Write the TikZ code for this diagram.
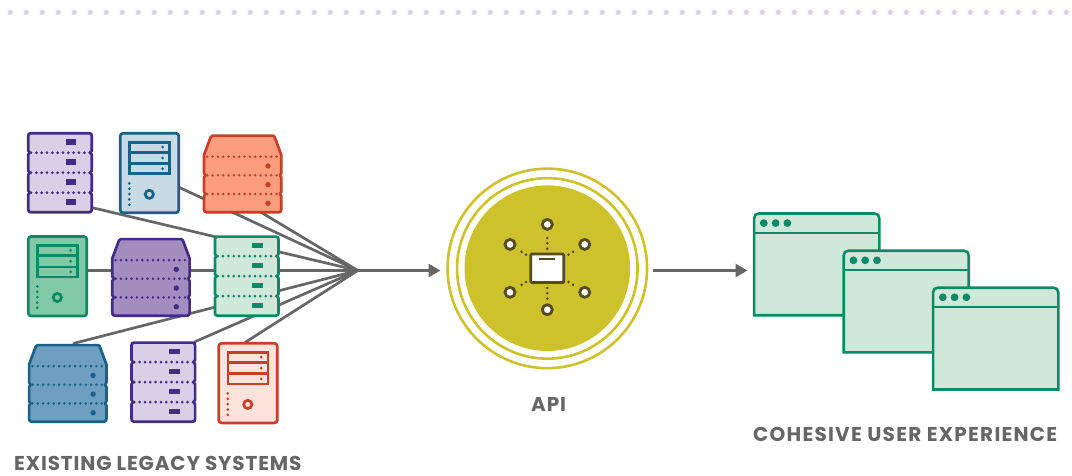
\documentclass[tikz,border=0pt]{standalone}
\usepackage{fontspec}
\setmainfont{Poppins}
\usetikzlibrary{arrows.meta,shapes.geometric}
\definecolor{cpurple}{HTML}{432C85}
\definecolor{cpurpleL}{HTML}{D9CFE6}
\definecolor{cpurpleM}{HTML}{A38CBE}
\definecolor{cblue}{HTML}{1A6285}
\definecolor{cblueL}{HTML}{C8DAE3}
\definecolor{cblueM}{HTML}{6E9FC2}
\definecolor{cred}{HTML}{C73F28}
\definecolor{credL}{HTML}{FDE3DC}
\definecolor{credM}{HTML}{FB9E7E}
\definecolor{cgreen}{HTML}{0C8A66}
\definecolor{cgreenL}{HTML}{CFE8DA}
\definecolor{cgreenM}{HTML}{80C8A6}
\definecolor{capi}{HTML}{CDC22B}
\definecolor{capiD}{HTML}{544C1E}
\definecolor{cgray}{HTML}{666666}
\definecolor{cdots}{HTML}{DCD3E9}
\newfontface\labelA{Poppins Bold}[LetterSpace=4.3]
\newfontface\labelB{Poppins Bold}[LetterSpace=6.2]
\tikzset{
  outline/.style={line width=2.7pt,line join=round},
  dotline/.style={line width=3pt,line cap=round,dash pattern=on 0pt off 5.33pt},
  conn/.style={draw=cgray,line width=2.7pt},
  arrowconn/.style={conn,-{Triangle[length=12pt,width=13pt]}},
  label/.style={text=cgray,inner sep=0pt,anchor=base west,text depth=0pt,text height=14pt},
  apiring/.style={circle,draw=capi,line width=2.6pt,fill=white,inner sep=0pt},
  sat/.style={circle,draw=capiD,fill=white,line width=2.8pt,minimum size=10pt,inner sep=0pt},
  apidots/.style={draw=capiD,line width=2.8pt,line cap=round,dash pattern=on 0pt off 5.33pt,shorten >=4pt,shorten <=4pt},
  winbox/.style={draw=cgreen,fill=cgreenL,line width=2.6pt},
}
\newcommand\notchR[2]{-- (#1,#2-2.2) .. controls (#1,#2-1) and (#1-1.4,#2-.8) .. (#1-1.4,#2) .. controls (#1-1.4,#2+.8) and (#1,#2+1) .. (#1,#2+2.2)}
\newcommand\notchL[2]{-- (#1,#2+2.2) .. controls (#1,#2+1) and (#1+1.4,#2+.8) .. (#1+1.4,#2) .. controls (#1+1.4,#2-.8) and (#1,#2-1) .. (#1,#2-2.2)}
\newcommand\rackdev[4]{%
\begin{scope}[shift={(#1,#2)}]
 \draw[outline,draw=#3,fill=#4] (3.5,.7) -- (61.5,.7) .. controls (63.5,.7) and (64.3,1.5) .. (64.3,3.5)
  \notchR{64.3}{20.2} \notchR{64.3}{40.2} \notchR{64.3}{60.2}
  -- (64.3,77) .. controls (64.3,79) and (63.5,79.8) .. (61.5,79.8) -- (3.5,79.8) .. controls (1.5,79.8) and (.7,79) .. (.7,77)
  \notchL{.7}{60.2} \notchL{.7}{40.2} \notchL{.7}{20.2}
  -- (.7,3.5) .. controls (.7,1.5) and (1.5,.7) .. (3.5,.7) -- cycle;
 \foreach \yy in {20.2,40.2,60.2}{\draw[dotline,draw=#3] (3.5,\yy) -- (63,\yy);}
 \foreach \yy in {9.5,29.5,49.5,69.5}{\fill[#3] (38.2,\yy-2.7) rectangle (48.8,\yy+2.7);}
\end{scope}}
\newcommand\flaredev[4]{%
\begin{scope}[shift={(#1,#2)}]
 \draw[outline,draw=#3,fill=#4] (9.2,.7) -- (69.8,.7) .. controls (70.8,.7) and (71.1,1.2) .. (71.4,2.2) -- (78,20)
  \notchR{78}{40.3} \notchR{78}{59}
  -- (78,74.5) .. controls (78,76.5) and (77.2,77.3) .. (75.2,77.3) -- (3.5,77.3) .. controls (1.5,77.3) and (.7,76.5) .. (.7,74.5)
  \notchL{.7}{59} \notchL{.7}{40.3}
  -- (.7,20) -- (7.3,2.2) .. controls (7.6,1.2) and (8.2,.7) .. (9.2,.7) -- cycle;
 \foreach \yy in {21.7,40.3,59}{\draw[dotline,draw=#3,line width=2.8pt] (4,\yy) -- (76,\yy);}
 \foreach \yy in {31,49.7,68.3}{\fill[#3] (64.7,\yy) circle (2.7pt);}
\end{scope}}
\newcommand\towerdev[4]{%
\begin{scope}[shift={(#1,#2)}]
 \draw[outline,draw=#3,fill=#4,rounded corners=3pt] (.7,.7) rectangle (59.3,80.3);
 \draw[draw=#3,line width=2.7pt] (10,9.7) rectangle (50,41.3) (10,19.8) -- (50,19.8) (10,31.2) -- (50,31.2);
 \foreach \yy in {14.5,25.5,36.2}{\fill[#3] (43.2,\yy) circle (1.5pt);}
 \foreach \yy in {50.8,56.2,61.5,66.9,72.2}{\fill[#3] (9.8,\yy) circle (1.5pt);}
 \draw[draw=#3,line width=2.7pt] (29.8,61.8) circle (4.1pt);
\end{scope}}
\newcommand\windev[4]{%
 \draw[winbox] (#1+.7,#4-.7) -- (#1+.7,#2+5.5) .. controls (#1+.7,#2+2.5) and (#1+2.5,#2+.7) .. (#1+5.5,#2+.7) -- (#3-5.5,#2+.7) .. controls (#3-2.5,#2+.7) and (#3-.7,#2+2.5) .. (#3-.7,#2+5.5) -- (#3-.7,#4-.7) -- cycle;
 \draw[draw=cgreen,line width=2.6pt] (#1+.7,#2+20) -- (#3-.7,#2+20);
 \foreach \dd in {10.4,22.2,34}{\fill[cgreen] (#1+\dd,#2+10.3) circle (3.9pt);}
}
\begin{document}
\begin{tikzpicture}[x=1pt,y=-1pt]
\useasboundingbox (0,0) rectangle (1072,475);
\fill[white] (0,0) rectangle (1072,475);
\foreach \k in {0,...,66}{\fill[cdots] (10.3+16*\k,12.3) circle (2.7pt);}

\coordinate (hub) at (357.8,270.5);
\coordinate (apiIn) at (440.5,270.5);
\coordinate (s1) at (92,207.6);
\coordinate (s2) at (179,187.3);
\coordinate (s3) at (250,205.6);
\coordinate (s4) at (87,270.5);
\coordinate (s5) at (74,343.3);
\coordinate (s6) at (195,341.7);
\coordinate (s7) at (245,342.5);
\coordinate (apiOut) at (653,270.5);
\coordinate (winIn) at (747.5,270.5);
\foreach \s in {s1,s2,s3,s4,s5,s6,s7}{\draw[conn,line cap=round] (\s) -- (hub);}
\draw[arrowconn] (hub) -- (apiIn);
\draw[arrowconn] (apiOut) -- (winIn);

\rackdev{27.5}{132.5}{cpurple}{cpurpleL}
\towerdev{119.5}{132.5}{cblue}{cblueL}
\flaredev{203.3}{135}{cred}{credM}
\towerdev{27.5}{235.7}{cgreen}{cgreenM}
\flaredev{111.6}{238.4}{cpurple}{cpurpleM}
\rackdev{214.2}{235.9}{cgreen}{cgreenL}
\flaredev{28.4}{344.4}{cblue}{cblueM}
\rackdev{130.8}{341.9}{cpurple}{cpurpleL}
\towerdev{218}{342.6}{cred}{credL}

\node[apiring,minimum size=199.5pt] (ringA) at (547.3,268.4) {};
\node[apiring,minimum size=180.5pt] (ringB) at (547.3,268.4) {};
\node[circle,fill=capi,inner sep=0pt,minimum size=165.6pt] (api) at (547.3,268.2) {};
\node[draw=capiD,fill=white,line width=2.8pt,minimum width=33pt,minimum height=28.5pt,inner sep=0pt,rounded corners=1pt] (box) at (547.3,268.3) {};
\draw[draw=capiD,line width=2.4pt] (539.3,259) -- (555.3,259);
\node[sat] (sa) at (547.3,224.4) {};
\node[sat] (sb) at (584.7,244.4) {};
\node[sat] (sc) at (584.7,292.3) {};
\node[sat] (sd) at (547.3,309.7) {};
\node[sat] (se) at (510,292.3) {};
\node[sat] (sf) at (510,244.4) {};
\foreach \s in {sa,sb,sc,sd,se,sf}{\draw[apidots] (box) -- (\s);}

\windev{753.4}{212.8}{880}{315.9}
\windev{843}{250}{969.4}{353}
\windev{932.4}{287}{1059}{390.2}

\node[label,font=\labelA\fontsize{20pt}{22pt}\selectfont] (l1) at (14,470) {EXISTING LEGACY SYSTEMS};
\node[label,font=\labelA\fontsize{20pt}{22pt}\selectfont] (l2) at (531,411) {API};
\node[label,font=\labelB\fontsize{20pt}{22pt}\selectfont] (l3) at (753,441.5) {COHESIVE USER EXPERIENCE};
\end{tikzpicture}
\end{document}
